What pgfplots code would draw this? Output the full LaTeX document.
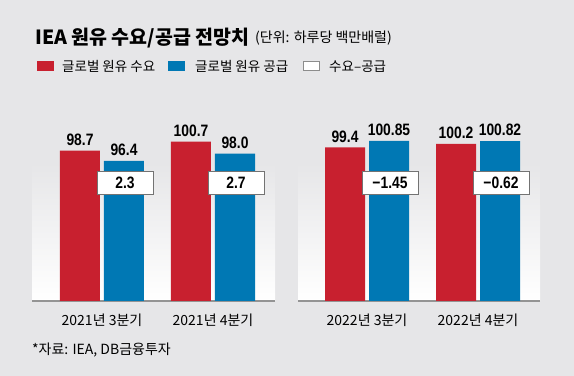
\documentclass[border=0pt]{standalone}
\usepackage{fontspec}
\setmainfont{Noto Sans CJK KR}
\newfontfamily\num[FakeStretch=0.84]{Liberation Sans}
\usepackage{pgfplots}
\pgfplotsset{compat=1.18}
\definecolor{bg}{HTML}{E6E6E8}
\definecolor{dred}{HTML}{C8202F}
\definecolor{dblue}{HTML}{0078B4}
\pgfplotsset{
  panel/.style={
    anchor=south west,
    x=111bp, y=4.49bp,
    ymin=65.2, ymax=101.2,
    axis x line*=bottom, axis y line=none,
    axis line style={draw=black!42, line width=1.6bp},
    xtick={0,1},
    major tick length=0,
    xticklabel style={anchor=base, yshift=-25bp, font=\fontsize{14bp}{16bp}\selectfont},
    clip=false,
  },
  vals/.style={
    ybar, bar width=40bp, draw=none, bar shift=#1,
    nodes near coords, point meta=explicit symbolic,
    every node near coord/.style={font=\num\bfseries\fontsize{16.5bp}{18bp}\selectfont, anchor=south, inner sep=0pt, xshift=#1, yshift=5bp, text=black},
  },
  diffs/.style={
    draw=none, mark=none,
    nodes near coords, point meta=explicit symbolic,
    every node near coord/.style={font=\num\bfseries\fontsize{16.5bp}{18bp}\selectfont, anchor=center, xshift=23bp, draw=black!55, line width=0.8bp, fill=white, minimum width=56bp, minimum height=23bp, inner sep=0pt, text=black},
  },
}
\begin{document}
\begin{tikzpicture}
\fill[bg] (0,0) rectangle (574bp,376bp);
\shade[top color=bg, bottom color=white] (32bp,75bp) rectangle (275bp,213bp);
\shade[top color=bg, bottom color=white] (298bp,75bp) rectangle (540bp,213bp);
% title
\node[anchor=base west, inner sep=0pt] at (35bp,331bp) {\fontsize{19.5bp}{21bp}\selectfont\bfseries IEA 원유 수요/공급 전망치};
\node[anchor=base west, inner sep=0pt] at (255bp,333bp) {\fontsize{14bp}{16bp}\selectfont (단위: 하루당 백만배럴)};
% legend
\fill[dred] (37bp,305bp) rectangle (54bp,315bp);
\node[anchor=base west, inner sep=0pt] at (62bp,304bp) {\fontsize{13.5bp}{15bp}\selectfont 글로벌 원유 수요};
\fill[dblue] (168bp,305bp) rectangle (185bp,315bp);
\node[anchor=base west, inner sep=0pt] at (195bp,304bp) {\fontsize{13.5bp}{15bp}\selectfont 글로벌 원유 공급};
\filldraw[fill=white, draw=black!45, line width=0.8bp] (303.5bp,305.5bp) rectangle (319.5bp,314.5bp);
\node[anchor=base west, inner sep=0pt] at (329bp,304bp) {\fontsize{13.5bp}{15bp}\selectfont 수요–공급};
% left panel
\begin{axis}[panel, at={(32bp,75bp)}, xmin=-0.6306, xmax=1.5586,
  xticklabels={2021년 3분기, 2021년 4분기}]
\addplot[vals=-22bp, fill=dred] coordinates {(0,98.7)[98.7] (1,100.7)[100.7]};
\addplot[vals=22bp, fill=dblue] coordinates {(0,96.4)[96.4] (1,98.0)[98.0]};
\addplot[diffs] coordinates {(0,91.6)[2.3] (1,91.6)[2.7]};
\end{axis}
% right panel
\begin{axis}[panel, at={(298bp,75bp)}, xmin=-0.6216, xmax=1.5586,
  xticklabels={2022년 3분기, 2022년 4분기}]
\addplot[vals=-22bp, fill=dred] coordinates {(0,99.4)[99.4] (1,100.2)[100.2]};
\addplot[vals=22bp, fill=dblue] coordinates {(0,100.85)[100.85] (1,100.82)[100.82]};
\addplot[diffs] coordinates {(0,91.6)[−1.45] (1,91.6)[−0.62]};
\end{axis}
% footer
\node[anchor=base west, inner sep=0pt] at (32bp,22bp) {\fontsize{14bp}{16bp}\selectfont *자료: IEA, DB금융투자};
\end{tikzpicture}
\end{document}
